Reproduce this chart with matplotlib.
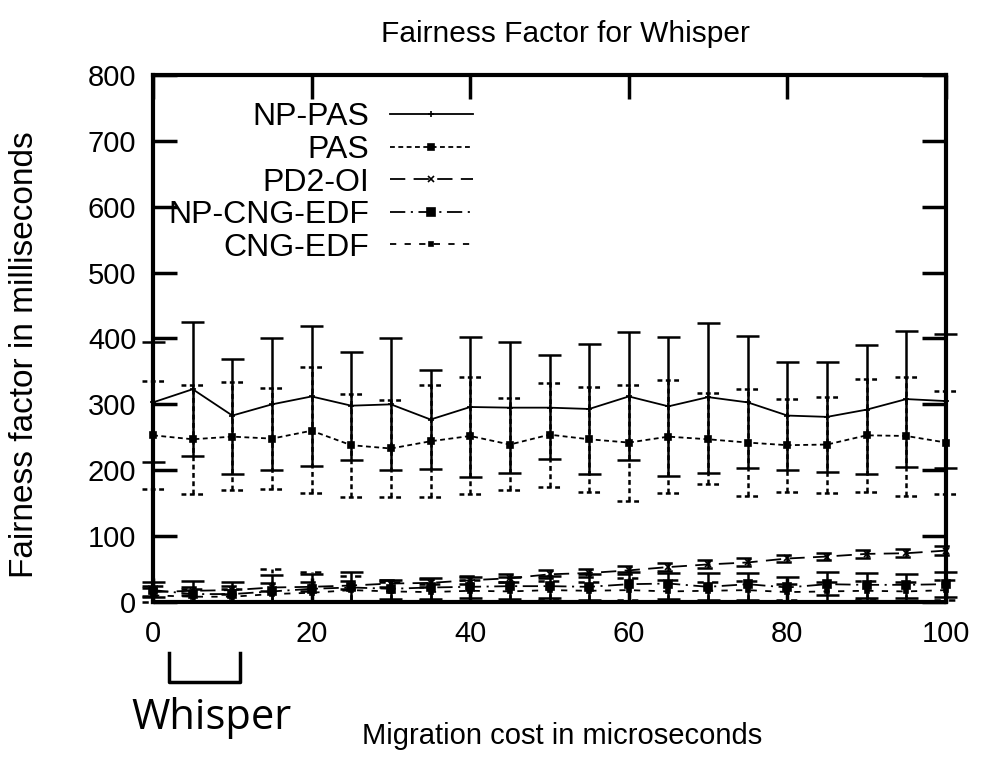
import matplotlib
matplotlib.use("Agg")
import matplotlib.pyplot as plt
import matplotlib.transforms as mtransforms

# migration cost (microseconds) on the x axis
migration_cost = [0, 5, 10, 15, 20, 25, 30, 35, 40, 45, 50,
                  55, 60, 65, 70, 75, 80, 85, 90, 95, 100]

np_pas = [303, 323, 283, 300, 312, 298, 300, 277, 296, 295, 295,
          293, 312, 297, 311, 303, 283, 281, 292, 308, 305]
np_pas_hi = [394, 425, 369, 400, 419, 379, 401, 352, 402, 395, 375,
             392, 410, 403, 424, 404, 364, 365, 390, 411, 407]
np_pas_lo = [212, 222, 195, 200, 206, 216, 200, 202, 190, 196, 217,
             195, 215, 192, 196, 204, 200, 197, 195, 205, 204]

pas = [253, 247, 251, 248, 260, 238, 233, 244, 252, 239, 254,
       247, 242, 251, 247, 242, 238, 239, 253, 252, 242]
pas_hi = [335, 329, 334, 325, 356, 316, 306, 329, 341, 309, 333,
          327, 330, 337, 317, 323, 308, 311, 339, 342, 320]
pas_lo = [172, 164, 170, 171, 166, 160, 160, 160, 164, 170, 174,
          167, 153, 166, 179, 161, 167, 166, 167, 161, 164]

pd2_oi = [15, 17, 18, 22, 23, 25, 28, 29, 33, 36, 42,
          44, 48, 53, 57, 60, 66, 69, 73, 74, 78]
pd2_oi_hi = [21, 23, 24, 29, 30, 32, 34, 35, 39, 42, 48,
             50, 54, 59, 63, 66, 72, 75, 79, 80, 85]
pd2_oi_lo = [9, 11, 12, 16, 17, 19, 22, 23, 27, 30, 36,
             38, 42, 47, 51, 54, 60, 63, 67, 68, 71]

np_cng_edf = [18, 12, 12, 16, 20, 22, 20, 22, 23, 24, 24,
              23, 27, 28, 23, 27, 22, 27, 26, 26, 27]
np_cng_edf_hi = [30, 32, 30, 41, 42, 46, 33, 36, 38, 38, 40,
                 42, 45, 44, 44, 44, 38, 46, 44, 43, 46]
np_cng_edf_lo = [7, 2, 2, 0, 0, 0, 5, 4, 6, 5, 6,
                 3, 2, 5, 3, 3, 0, 10, 6, 6, 8]

cng_edf = [10, 8, 8, 12, 14, 18, 16, 15, 17, 16, 18,
           17, 18, 16, 17, 18, 15, 16, 17, 16, 18]
cng_edf_hi = [25, 20, 20, 50, 46, 40, 30, 28, 33, 30, 32,
              30, 36, 33, 30, 32, 28, 30, 32, 30, 34]
cng_edf_lo = [0, 0, 0, 0, 0, 2, 2, 3, 2, 2, 3,
              2, 3, 2, 2, 2, 3, 2, 3, 2, 3]

plt.rcParams['font.family'] = ['Liberation Sans', 'DejaVu Sans']
plt.rcParams['lines.scale_dashes'] = False

CAP = 1.45  # half width of error bar caps, in x units


def draw_series(ax, y, lo, hi, label, ls, marker, ms, bar_ls):
    x = migration_cost
    ax.plot(x, y, color='black', linestyle=ls, lw=1.3, marker=marker,
            ms=ms, mew=1.2, label=label, clip_on=False, zorder=3)
    ax.vlines(x, lo, hi, colors='black', linestyles=bar_ls, lw=1.8,
              clip_on=False, zorder=2)
    left = [v - CAP for v in x]
    right = [v + CAP for v in x]
    ax.hlines(lo, left, right, colors='black', linestyles=bar_ls, lw=1.8,
              clip_on=False, zorder=2)
    ax.hlines(hi, left, right, colors='black', linestyles=bar_ls, lw=1.8,
              clip_on=False, zorder=2)


fig = plt.figure(figsize=(9.81, 7.83), dpi=100)
ax = fig.add_axes([0.156, 0.2312, 0.8083, 0.673])

dotted = (0, (3.5, 2.5))
long_dash = (0, (11, 6))
dash_dot = (0, (11, 4, 1.5, 4))
short_dash = (0, (4.5, 6))

draw_series(ax, np_pas, np_pas_lo, np_pas_hi, 'NP-PAS', '-', '+', 5, 'solid')
draw_series(ax, pas, pas_lo, pas_hi, 'PAS', dotted, 's', 5, dotted)
draw_series(ax, pd2_oi, pd2_oi_lo, pd2_oi_hi, 'PD2-OI', long_dash, 'x', 4, long_dash)
draw_series(ax, np_cng_edf, np_cng_edf_lo, np_cng_edf_hi, 'NP-CNG-EDF', dash_dot, 's', 5.5, 'solid')
draw_series(ax, cng_edf, cng_edf_lo, cng_edf_hi, 'CNG-EDF', short_dash, 's', 3.5, short_dash)

ax.set_xlim(0, 100)
ax.set_ylim(0, 800)
ax.set_xticks(range(0, 101, 20))
ax.set_yticks(range(0, 801, 100))
for s in ax.spines.values():
    s.set_linewidth(3)
ax.tick_params(direction='in', length=17, width=2.5, top=True, right=True,
               labelsize=21)
ax.tick_params(axis='y', pad=12)
ax.tick_params(axis='x', pad=13)

ax.set_title('Fairness Factor for Whisper', fontsize=21.5, x=0.52, pad=24)
ax.set_xlabel('Migration cost in microseconds', fontsize=21)
ax.xaxis.set_label_coords(0.516, -0.228)
ax.set_ylabel('Fairness factor in milliseconds', fontsize=24)
ax.yaxis.set_label_coords(-0.142, 0.47)

ax.legend(loc='upper left', bbox_to_anchor=(0.019, 0.948), markerfirst=False,
          frameon=False, fontsize=23, handlelength=2.6, handletextpad=0.65,
          labelspacing=0.08, borderpad=0, borderaxespad=0, numpoints=1)

# bracket marking the Whisper range under the x axis
trans = mtransforms.blended_transform_factory(ax.transData, ax.transAxes)
ax.plot([2, 2, 11, 11], [-0.097, -0.152, -0.152, -0.097], color='black',
        lw=2.5, transform=trans, clip_on=False)
ax.text(7.4, -0.241, 'Whisper', transform=trans, ha='center', va='baseline',
        fontsize=30, family=['Open Sans', 'DejaVu Sans'])

fig.savefig('out.png', dpi=100)
